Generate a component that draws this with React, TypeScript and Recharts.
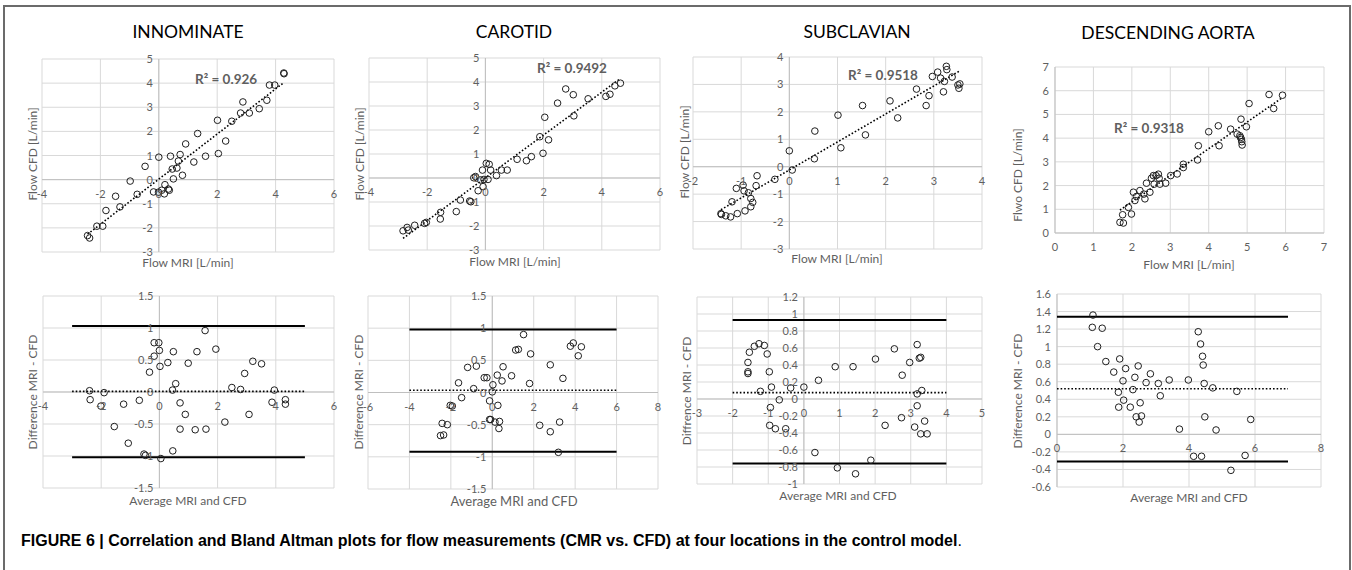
import React from "react";
import { ScatterChart, Scatter, XAxis, YAxis, CartesianGrid, ReferenceLine } from "recharts";

type Pt = [number, number];

// correlation plots: [Flow MRI, Flow CFD]
const innominateCorr: Pt[] = [
  [-2.44, -2.32], [-2.37, -2.42], [-2.12, -1.93], [-1.92, -1.93], [-1.81, -1.28], [-1.48, -0.69],
  [-1.33, -1.13], [-0.98, -0.06], [-0.74, -0.61], [-0.47, 0.55], [-0.18, -0.51], [0.0, 0.93],
  [-0.01, -0.52], [0.1, -0.44], [0.19, -0.59], [0.21, -0.21], [0.33, -0.39], [0.36, -0.44],
  [0.4, 0.97], [0.46, 0.44], [0.5, 0.03], [0.62, 0.48], [0.67, 0.77], [0.73, 1.04],
  [0.81, 0.18], [0.92, 1.48], [1.2, 0.73], [1.33, 1.91], [1.6, 0.97], [2.01, 2.46],
  [2.04, 1.08], [2.29, 1.6], [2.5, 2.42], [2.8, 2.76], [2.88, 3.22], [3.1, 2.76],
  [3.44, 2.94], [3.7, 3.29], [3.79, 3.92], [3.97, 3.92], [4.28, 4.42], [4.29, 4.39],
];
const carotidCorr: Pt[] = [
  [-2.83, -2.2], [-2.69, -2.06], [-2.65, -2.17], [-2.43, -1.97], [-2.09, -1.89], [-2.03, -1.85],
  [-1.54, -1.43], [-1.55, -1.71], [-1.0, -1.4], [-0.86, -0.92], [-0.54, -0.96], [-0.5, -0.99],
  [-0.34, 0.06], [-0.4, 0.01], [-0.25, -0.53], [-0.17, -0.08], [-0.1, 0.33], [-0.08, -0.36],
  [-0.05, -0.06], [0.03, 0.61], [0.09, -0.06], [0.13, 0.57], [0.18, 0.33], [0.38, 0.1],
  [0.55, 0.33], [0.75, 0.33], [1.09, 0.78], [1.41, 0.72], [1.58, 0.89], [1.87, 1.72],
  [1.98, 1.03], [2.04, 2.53], [2.17, 1.59], [2.48, 3.12], [2.76, 3.71], [3.02, 3.47],
  [3.04, 2.59], [3.53, 3.3], [4.14, 3.4], [4.28, 3.49], [4.45, 3.84], [4.64, 3.95],
];
const subclavianCorr: Pt[] = [
  [-1.42, -1.71], [-1.41, -1.74], [-1.32, -1.79], [-1.22, -1.83], [-1.19, -1.28], [-1.08, -1.71],
  [-1.1, -0.79], [-0.96, -0.67], [-0.94, -0.88], [-0.92, -1.61], [-0.85, -0.95], [-0.8, -1.16],
  [-0.8, -1.46], [-0.76, -1.3], [-0.69, -0.69], [-0.67, -0.33], [-0.3, -0.46], [0.0, 0.58],
  [0.06, -0.12], [0.52, 0.29], [0.53, 1.3], [1.01, 1.88], [1.07, 0.69], [1.52, 2.23],
  [1.58, 1.16], [2.09, 2.4], [2.25, 1.78], [2.64, 2.83], [2.84, 2.23], [2.9, 2.59],
  [2.97, 3.29], [3.08, 3.45], [3.14, 3.23], [3.2, 2.73], [3.22, 3.11], [3.26, 3.66],
  [3.27, 3.54], [3.38, 3.27], [3.5, 2.98], [3.52, 2.86], [3.54, 3.02],
];
const aortaCorr: Pt[] = [
  [1.69, 0.45], [1.76, 0.77], [1.78, 0.42], [1.91, 1.08], [1.99, 0.8], [2.04, 1.72],
  [2.08, 1.37], [2.12, 1.54], [2.21, 1.79], [2.31, 1.64], [2.34, 1.44], [2.38, 2.1],
  [2.47, 1.72], [2.51, 2.31], [2.56, 2.42], [2.58, 2.06], [2.63, 2.42], [2.69, 2.48],
  [2.71, 2.31], [2.73, 2.06], [2.88, 2.1], [3.01, 2.42], [3.18, 2.49], [3.34, 2.9],
  [3.34, 2.76], [3.71, 3.08], [3.73, 3.68], [4.0, 4.27], [4.25, 4.52], [4.27, 3.68],
  [4.57, 4.38], [4.74, 4.17], [4.81, 4.1], [4.83, 4.03], [4.84, 4.8], [4.85, 3.95],
  [4.86, 3.85], [4.87, 3.71], [4.98, 4.48], [5.05, 5.46], [5.57, 5.84], [5.69, 5.25],
  [5.92, 5.81],
];

// Bland Altman plots: [average, difference]
const innominateBA: Pt[] = [
  [-2.4, 0.02], [-2.38, -0.12], [-2.01, -0.22], [-1.9, -0.01], [-1.55, -0.54], [-1.23, -0.19],
  [-1.07, -0.8], [-0.69, -0.13], [-0.53, -0.97], [-0.48, -0.99], [-0.34, 0.31], [-0.18, 0.77],
  [-0.18, 0.56], [-0.02, 0.77], [0.0, 0.65], [0.02, 0.4], [0.05, -1.04], [0.29, 0.46],
  [0.45, 0.03], [0.46, -0.92], [0.48, 0.63], [0.56, 0.13], [0.71, -0.17], [0.71, -0.58],
  [0.89, -0.35], [0.99, 0.45], [1.23, -0.59], [1.29, 0.63], [1.57, 0.96], [1.6, -0.58],
  [1.94, 0.67], [2.25, -0.47], [2.49, 0.07], [2.79, 0.04], [2.93, 0.29], [3.08, -0.35],
  [3.21, 0.48], [3.51, 0.44], [3.87, -0.16], [3.95, 0.03], [4.33, -0.12], [4.33, -0.19],
];
const carotidBA: Pt[] = [
  [-2.5, -0.67], [-2.35, -0.66], [-2.42, -0.48], [-2.17, -0.5], [-2.03, -0.2], [-1.93, -0.21],
  [-1.63, 0.15], [-1.48, -0.08], [-1.19, 0.39], [-0.77, 0.41], [-0.9, 0.06], [-0.39, 0.23],
  [-0.26, 0.23], [-0.13, -0.42], [-0.08, -0.42], [-0.13, -0.13], [0.0, 0.01], [0.03, 0.12],
  [0.13, -0.46], [0.24, 0.27], [0.27, -0.2], [0.32, -0.56], [0.35, -0.45], [0.47, 0.18],
  [0.52, 0.4], [0.93, 0.26], [1.13, 0.66], [1.26, 0.67], [1.51, 0.9], [1.85, 0.6],
  [1.8, 0.14], [2.29, -0.51], [2.8, 0.43], [2.8, -0.61], [3.19, -0.93], [3.25, -0.46],
  [3.41, 0.22], [3.77, 0.72], [3.91, 0.77], [4.15, 0.57], [4.3, 0.71],
];
const subclavianBA: Pt[] = [
  [-1.57, 0.32], [-1.57, 0.3], [-1.57, 0.43], [-1.53, 0.55], [-1.39, 0.62], [-1.26, 0.65],
  [-1.22, 0.09], [-1.11, 0.63], [-1.03, 0.53], [-0.97, 0.32], [-0.94, -0.1], [-0.91, 0.14],
  [-0.96, -0.31], [-0.8, -0.35], [-0.69, -0.01], [-0.51, -0.35], [-0.37, 0.13], [0.0, 0.14],
  [0.31, -0.63], [0.41, 0.22], [0.88, 0.38], [0.94, -0.81], [1.38, 0.38], [1.45, -0.88],
  [1.88, -0.72], [2.01, 0.47], [2.28, -0.31], [2.54, 0.59], [2.74, -0.22], [2.76, 0.28],
  [2.97, 0.43], [3.11, -0.33], [3.18, 0.64], [3.18, 0.06], [3.18, -0.08], [3.24, 0.48],
  [3.28, 0.49], [3.28, -0.41], [3.31, 0.1], [3.39, -0.26], [3.46, -0.41],
];
const aortaBA: Pt[] = [
  [1.09, 1.36], [1.07, 1.22], [1.37, 1.21], [1.23, 1.0], [1.48, 0.83], [1.72, 0.71],
  [1.9, 0.86], [1.86, 0.48], [1.87, 0.31], [2.0, 0.61], [2.02, 0.39], [2.08, 0.75],
  [2.22, 0.31], [2.3, 0.51], [2.36, 0.65], [2.4, 0.2], [2.46, 0.78], [2.49, 0.14],
  [2.52, 0.36], [2.56, 0.21], [2.7, 0.59], [2.83, 0.69], [3.07, 0.58], [3.13, 0.44],
  [3.4, 0.62], [3.71, 0.06], [3.98, 0.62], [4.14, -0.25], [4.28, 1.17], [4.35, 1.03],
  [4.38, -0.25], [4.41, 0.89], [4.43, 0.79], [4.46, 0.58], [4.48, 0.2], [4.72, 0.53],
  [4.82, 0.05], [5.27, -0.41], [5.45, 0.49], [5.7, -0.24], [5.87, 0.17],
];

// limits of agreement: [upper, mean, lower] and the x range they span
const innominateLimits = [1.03, 0.01, -1.02];
const carotidLimits = [0.98, 0.035, -0.92];
const subclavianLimits = [0.93, 0.075, -0.76];
const aortaLimits = [1.34, 0.52, -0.31];
const innominateSpan = [-3, 5];
const carotidSpan = [-4, 6];
const subclavianSpan = [-2, 4];
const aortaSpan = [0, 7];

const rSquared = ["0.926", "0.9492", "0.9518", "0.9318"];

// tick values
const ticksFlowX = [-4, -2, 0, 2, 4, 6];
const ticksFlowY = [-3, -2, -1, 0, 1, 2, 3, 4, 5];
const ticksSubX = [-2, -1, 0, 1, 2, 3, 4];
const ticksSubY = [-3, -2, -1, 0, 1, 2, 3, 4];
const ticksAorta = [0, 1, 2, 3, 4, 5, 6, 7];
const ticksDiff = [-1.5, -1, -0.5, 0, 0.5, 1, 1.5];
const ticksCarBAX = [-6, -4, -2, 0, 2, 4, 6, 8];
const ticksSubBAX = [-3, -2, -1, 0, 1, 2, 3, 4, 5];
const ticksSubBAY = [-1, -0.8, -0.6, -0.4, -0.2, 0, 0.2, 0.4, 0.6, 0.8, 1, 1.2];
const ticksAorBAX = [0, 2, 4, 6, 8];
const ticksAorBAY = [-0.6, -0.4, -0.2, 0, 0.2, 0.4, 0.6, 0.8, 1, 1.2, 1.4, 1.6];

const PAD = 30;
const FONT = "Lato, 'Open Sans', sans-serif";
const GRAY = "#5f5f5f";

interface Frame { left: number; top: number; w: number; h: number }

function fitLine(pts: Pt[]) {
  const n = pts.length;
  let sx = 0, sy = 0, sxx = 0, sxy = 0;
  for (const [x, y] of pts) { sx += x; sy += y; sxx += x * x; sxy += x * y; }
  const b = (n * sxy - sx * sy) / (n * sxx - sx * sx);
  const a = (sy - b * sx) / n;
  const x0 = Math.min(...pts.map(p => p[0]));
  const x1 = Math.max(...pts.map(p => p[0]));
  return [{ x: x0, y: a + b * x0 }, { x: x1, y: a + b * x1 }];
}

const Ring = (p: any) => (
  <circle cx={p.cx} cy={p.cy} r={3.3} fill="none" stroke="#1f1f1f" strokeWidth={1} />
);

function Panel({ frame, pts, xTicks, yTicks, trend, limits, span }: {
  frame: Frame; pts: Pt[]; xTicks: number[]; yTicks: number[];
  trend?: boolean; limits?: number[]; span?: number[];
}) {
  const xDom: [number, number] = [xTicks[0], xTicks[xTicks.length - 1]];
  const yDom: [number, number] = [yTicks[0], yTicks[yTicks.length - 1]];
  // Excel-style: axes cross at zero (or at the edge when zero is the minimum)
  const cx0 = Math.min(Math.max(0, xDom[0]), xDom[1]);
  const cy0 = Math.min(Math.max(0, yDom[0]), yDom[1]);
  const crossX = PAD + ((cx0 - xDom[0]) / (xDom[1] - xDom[0])) * frame.w;
  const crossY = PAD + ((yDom[1] - cy0) / (yDom[1] - yDom[0])) * frame.h;
  const data = pts.map(([x, y]) => ({ x, y }));
  const seg = trend ? fitLine(pts) : null;

  return (
    <div style={{ position: "absolute", left: frame.left - PAD, top: frame.top - PAD }}>
      <ScatterChart
        width={frame.w + 2 * PAD}
        height={frame.h + 2 * PAD}
        margin={{ top: PAD, right: PAD, bottom: PAD - 1, left: PAD - 1 }}
      >
        <CartesianGrid stroke="#d9d9d9" />
        <XAxis
          type="number" dataKey="x" domain={xDom} ticks={xTicks} interval={0}
          height={1} axisLine={false} tickLine={false} allowDataOverflow
          tick={(p: any) => (
            <text x={p.x} y={crossY + 18} textAnchor="middle" fontSize={11} fill={GRAY} fontFamily={FONT}>
              {p.payload.value}
            </text>
          )}
        />
        <YAxis
          type="number" dataKey="y" domain={yDom} ticks={yTicks} interval={0}
          width={1} axisLine={false} tickLine={false} allowDataOverflow
          tick={(p: any) => (
            <text x={crossX - 6} y={p.y + 4} textAnchor="end" fontSize={11} fill={GRAY} fontFamily={FONT}>
              {p.payload.value}
            </text>
          )}
        />
        <ReferenceLine x={cx0} stroke="#bfbfbf" />
        <ReferenceLine y={cy0} stroke="#bfbfbf" />
        {limits && span && (
          <>
            <ReferenceLine segment={[{ x: span[0], y: limits[0] }, { x: span[1], y: limits[0] }]} stroke="#000" strokeWidth={2} />
            <ReferenceLine segment={[{ x: span[0], y: limits[1] }, { x: span[1], y: limits[1] }]} stroke="#000" strokeWidth={1.6} strokeDasharray="1.6 2" />
            <ReferenceLine segment={[{ x: span[0], y: limits[2] }, { x: span[1], y: limits[2] }]} stroke="#000" strokeWidth={2} />
          </>
        )}
        {seg && (
          <ReferenceLine segment={seg} stroke="#000" strokeWidth={1.6} strokeDasharray="1.6 2" />
        )}
        <Scatter data={data} shape={Ring} isAnimationActive={false} />
      </ScatterChart>
    </div>
  );
}

function Txt({ x, y, children, size = 12, color = GRAY, bold = false, rot = false, left = false }: {
  x: number; y: number; children: React.ReactNode; size?: number; color?: string;
  bold?: boolean; rot?: boolean; left?: boolean;
}) {
  const tf = left ? "translate(0,-50%)" : rot ? "translate(-50%,-50%) rotate(-90deg)" : "translate(-50%,-50%)";
  return (
    <div style={{
      position: "absolute", left: x, top: y, transform: tf, whiteSpace: "nowrap",
      fontFamily: FONT, fontSize: size, color, fontWeight: bold ? 700 : 400, lineHeight: 1,
    }}>
      {children}
    </div>
  );
}

export default function App() {
  return (
    <div style={{ position: "absolute", left: 0, top: 0, width: 1352, height: 570, overflow: "hidden", background: "#fff" }}>
      <div style={{ position: "absolute", left: 3, top: 5, width: 1348, height: 700, boxSizing: "border-box", border: "2px solid #6b6b6b" }} />

      <Txt x={188} y={32} size={17.5} color="#000">INNOMINATE</Txt>
      <Txt x={514} y={32} size={17.5} color="#000">CAROTID</Txt>
      <Txt x={857} y={32} size={17.5} color="#000">SUBCLAVIAN</Txt>
      <Txt x={1168} y={33} size={17.5} color="#000">DESCENDING AORTA</Txt>

      <Panel frame={{ left: 42, top: 59, w: 292, h: 193 }} pts={innominateCorr} xTicks={ticksFlowX} yTicks={ticksFlowY} trend />
      <Panel frame={{ left: 369, top: 58, w: 291, h: 192 }} pts={carotidCorr} xTicks={ticksFlowX} yTicks={ticksFlowY} trend />
      <Panel frame={{ left: 693, top: 57, w: 289, h: 192 }} pts={subclavianCorr} xTicks={ticksSubX} yTicks={ticksSubY} trend />
      <Panel frame={{ left: 1055, top: 67, w: 269, h: 166 }} pts={aortaCorr} xTicks={ticksAorta} yTicks={ticksAorta} trend />

      <Panel frame={{ left: 43, top: 296, w: 291, h: 192 }} pts={innominateBA} xTicks={ticksFlowX} yTicks={ticksDiff} limits={innominateLimits} span={innominateSpan} />
      <Panel frame={{ left: 368, top: 296, w: 290, h: 193 }} pts={carotidBA} xTicks={ticksCarBAX} yTicks={ticksDiff} limits={carotidLimits} span={carotidSpan} />
      <Panel frame={{ left: 697, top: 297, w: 285, h: 187 }} pts={subclavianBA} xTicks={ticksSubBAX} yTicks={ticksSubBAY} limits={subclavianLimits} span={subclavianSpan} />
      <Panel frame={{ left: 1057, top: 294, w: 264, h: 193 }} pts={aortaBA} xTicks={ticksAorBAX} yTicks={ticksAorBAY} limits={aortaLimits} span={aortaSpan} />

      <Txt x={195} y={80} size={13.5} bold left>R² = {rSquared[0]}</Txt>
      <Txt x={537} y={69} size={13.5} bold left>R² = {rSquared[1]}</Txt>
      <Txt x={848} y={76} size={13.5} bold left>R² = {rSquared[2]}</Txt>
      <Txt x={1114} y={129} size={13.5} bold left>R² = {rSquared[3]}</Txt>

      <Txt x={188} y={263}>Flow MRI [L/min]</Txt>
      <Txt x={515} y={262}>Flow MRI [L/min]</Txt>
      <Txt x={837} y={259}>Flow MRI [L/min]</Txt>
      <Txt x={1189} y={265}>Flow MRI [L/min]</Txt>
      <Txt x={33} y={154} rot>Flow CFD [L/min]</Txt>
      <Txt x={360} y={154} rot>Flow CFD [L/min]</Txt>
      <Txt x={685} y={152} rot>Flow CFD [L/min]</Txt>
      <Txt x={1018} y={175} rot>Flwo CFD [L/min]</Txt>

      <Txt x={188} y={501}>Average MRI and CFD</Txt>
      <Txt x={514} y={501} size={13}>Average MRI and CFD</Txt>
      <Txt x={838} y={496}>Average MRI and CFD</Txt>
      <Txt x={1189} y={498}>Average MRI and CFD</Txt>
      <Txt x={33} y={392} rot>Difference MRI - CFD</Txt>
      <Txt x={359} y={392} rot>Difference MRI - CFD</Txt>
      <Txt x={687} y={391} rot>Diffrence MRI - CFD</Txt>
      <Txt x={1018} y={391} rot>Difference MRI - CFD</Txt>

      <div style={{
        position: "absolute", left: 21, top: 541, transform: "translateY(-50%)", whiteSpace: "nowrap",
        fontFamily: "'Liberation Sans', Arial, sans-serif", fontSize: 16, color: "#000", lineHeight: 1,
      }}>
        <b>FIGURE 6 | Correlation and Bland Altman plots for flow measurements (CMR vs. CFD) at four locations in the control model</b>.
      </div>
    </div>
  );
}
